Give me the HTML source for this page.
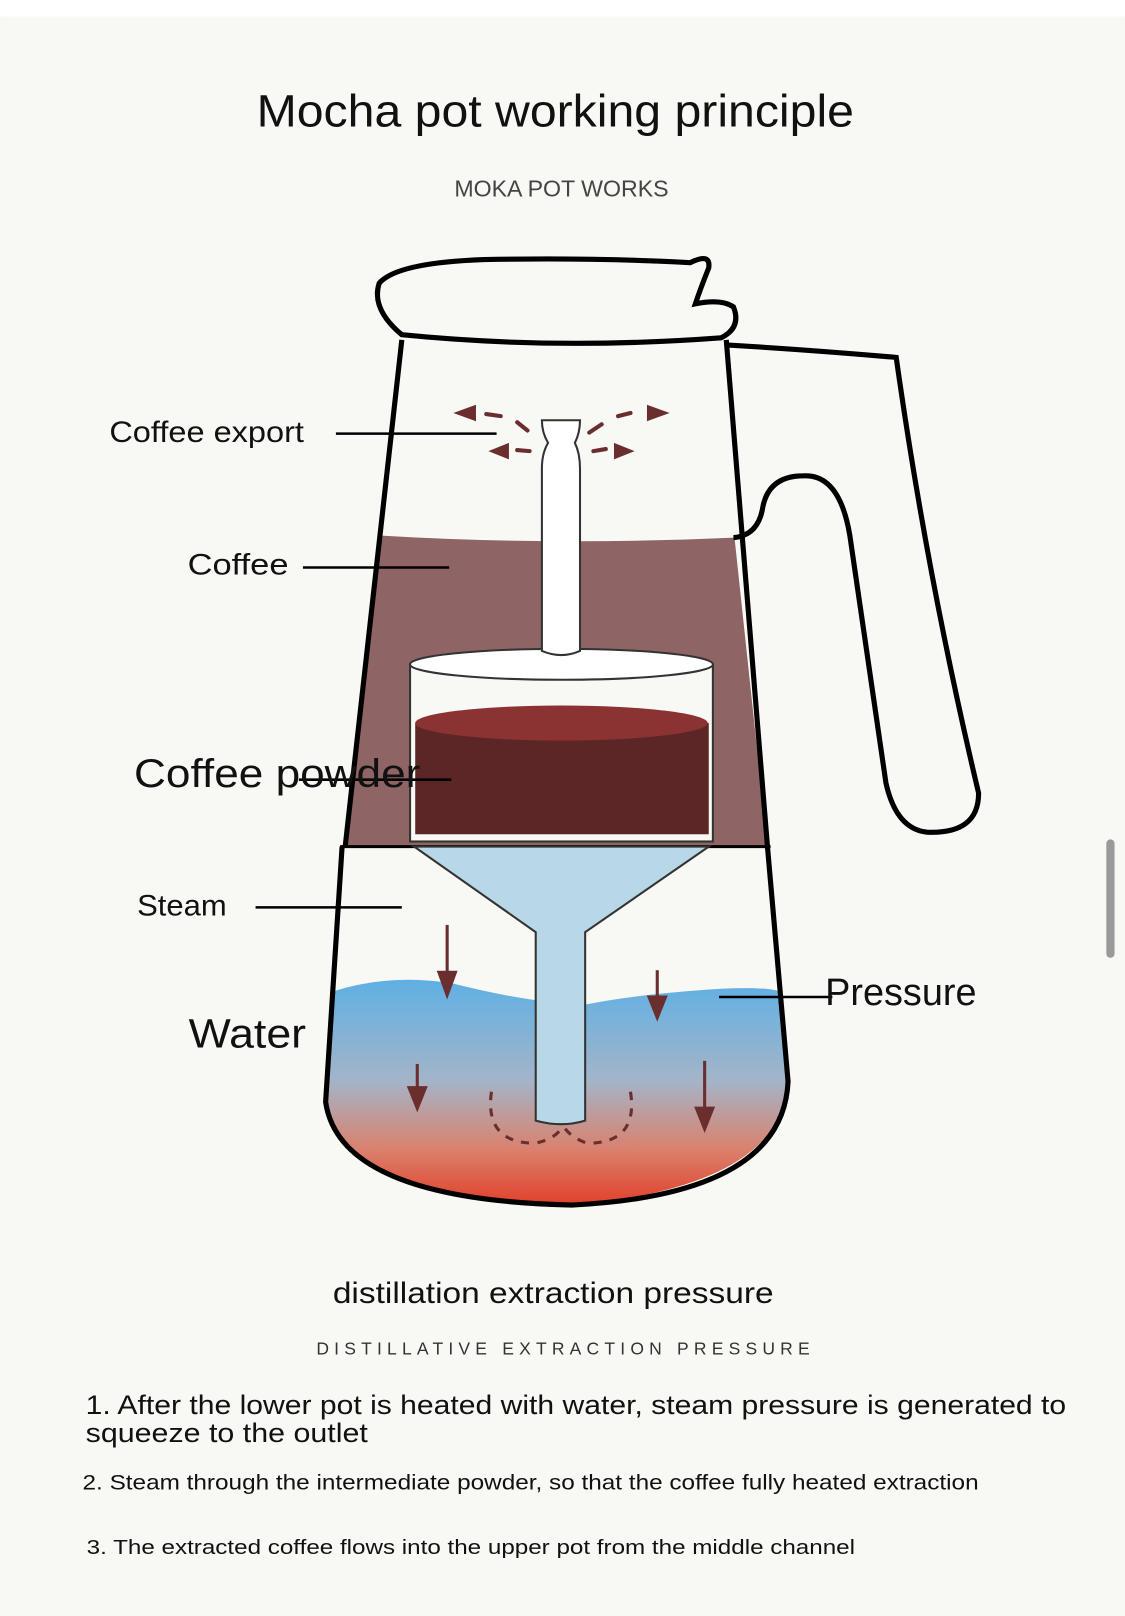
<!DOCTYPE html>
<html><head><meta charset="utf-8"><style>
html,body{margin:0;padding:0;background:#f8f8f4;}
svg{display:block;}
text{font-family:"Liberation Sans",sans-serif;fill:#111;}
</style></head><body>
<svg width="1125" height="1616" viewBox="0 0 1092 1569" xmlns="http://www.w3.org/2000/svg">
<defs>
<linearGradient id="w" x1="0" y1="0" x2="0" y2="1">
<stop offset="0" stop-color="#5fb0e4"/><stop offset="0.45" stop-color="#a4b4c8"/><stop offset="0.75" stop-color="#d9826e"/><stop offset="1" stop-color="#e2402a"/>
</linearGradient>
</defs>
<rect x="0" y="0" width="1092" height="1569" fill="#f8f8f4"/>
<rect x="0" y="0" width="1092" height="16" fill="#ffffff"/>
<rect x="1074" y="815" width="8" height="115" rx="4" fill="#9a9a9a"/>
<text x="249" y="123" font-size="44" textLength="580" lengthAdjust="spacingAndGlyphs">Mocha pot working principle</text>
<text x="441" y="191" font-size="22" textLength="208" lengthAdjust="spacingAndGlyphs" style="fill:#444">MOKA POT WORKS</text>

<path d="M370,520 Q540,530 713,522 L745,822 L333,822 Z" fill="#8f6464"/>
<path d="M325,962 Q380,945 440,955 Q520,975 570,975 Q620,965 700,960 Q740,958 755,962 L765,1050 Q760,1150 560,1170 Q330,1165 315,1070 Z" fill="url(#w)"/>
<path d="M390,330 L335,822 M705,330 L745,822" stroke="#000" stroke-width="5" fill="none"/>
<path d="M390,325 Q360,300 368,275 Q385,255 470,252 Q580,250 670,255 Q690,245 688,260 Q680,280 675,295 Q700,290 712,298 Q720,318 700,328 Q540,340 390,325 Z" fill="#f8f8f4" stroke="#000" stroke-width="5"/>
<path d="M707,335 Q790,340 870,347 Q900,560 950,770 Q950,810 900,808 Q870,805 860,760 L825,520 Q815,460 780,462 Q745,462 740,495 Q735,520 712,522" fill="none" stroke="#000" stroke-width="5"/>
<path d="M332,822 L316,1070 Q330,1165 555,1170 Q760,1160 765,1050 L745,822" fill="none" stroke="#000" stroke-width="5"/>
<line x1="330" y1="822" x2="748" y2="822" stroke="#000" stroke-width="3"/>
<path d="M402,822 L688,822 L568,905 L568,1088 Q545,1095 520,1088 L520,905 Z" fill="#b8d8e8" stroke="#333" stroke-width="2"/>
<rect x="398" y="645" width="294" height="172" fill="#f8f8f4" stroke="#333" stroke-width="2"/>
<ellipse cx="545" cy="645" rx="147" ry="15" fill="#fff" stroke="#333" stroke-width="2"/>
<rect x="403" y="702" width="285" height="108" fill="#5c2626"/>
<ellipse cx="545" cy="702" rx="142" ry="17" fill="#8b3232"/>
<path d="M526,632 L526,455 Q526,440 532,430 Q526,420 526,408 L563,408 Q563,420 558,430 Q563,440 563,455 L563,632 Q545,640 526,632 Z" fill="#fff" stroke="#333" stroke-width="2"/>
<g fill="#6b2e2e">
<path d="M440,401 L462,393 L462,409 Z"/><path d="M474,438 L494,430 L494,446 Z"/>
<path d="M650,401 L628,393 L628,409 Z"/><path d="M616,438 L596,430 L596,446 Z"/>
</g>
<g stroke="#6b2e2e" stroke-width="4" fill="none" stroke-linecap="round">
<path d="M472,402 L486,404 M502,410 L512,418 M502,437 L514,438 M572,420 L584,412 M600,404 L612,401 M576,438 L588,436"/>
</g>
<g stroke="#6b2e2e" stroke-width="3" fill="#6b2e2e">
<line x1="434" y1="898" x2="434" y2="950"/><path d="M426,944 L442,944 L434,966 Z"/>
<line x1="638" y1="942" x2="638" y2="972"/><path d="M630,968 L646,968 L638,988 Z"/>
<line x1="405" y1="1033" x2="405" y2="1060"/><path d="M397,1056 L413,1056 L405,1076 Z"/>
<line x1="684" y1="1030" x2="684" y2="1080"/><path d="M676,1076 L692,1076 L684,1096 Z"/>
</g>
<g stroke="#6b2e2e" stroke-width="3" fill="none" stroke-dasharray="8,8">
<path d="M477,1060 Q470,1110 520,1110 Q540,1105 545,1095"/>
<path d="M612,1060 Q620,1110 570,1110 Q555,1105 548,1095"/>
</g>
<g stroke="#000" stroke-width="2.5">
<line x1="326" y1="421" x2="482" y2="421"/>
<line x1="294" y1="551" x2="436" y2="551"/>
<line x1="290" y1="757" x2="438" y2="757"/>
<line x1="248" y1="881" x2="390" y2="881"/>
<line x1="698" y1="968" x2="808" y2="968"/>
</g>
<text x="106" y="429" font-size="29" textLength="189" lengthAdjust="spacingAndGlyphs">Coffee export</text>
<text x="182" y="558" font-size="29" textLength="98" lengthAdjust="spacingAndGlyphs">Coffee</text>
<text x="130" y="764" font-size="39" textLength="278" lengthAdjust="spacingAndGlyphs">Coffee powder</text>
<text x="133" y="889" font-size="29" textLength="87" lengthAdjust="spacingAndGlyphs">Steam</text>
<text x="183" y="1017" font-size="40" textLength="114" lengthAdjust="spacingAndGlyphs">Water</text>
<text x="801" y="976" font-size="37" textLength="147" lengthAdjust="spacingAndGlyphs">Pressure</text>

<text x="323" y="1265" font-size="29" textLength="428" lengthAdjust="spacingAndGlyphs">distillation extraction pressure</text>
<text x="307" y="1315" font-size="17" textLength="479" lengthAdjust="spacing" style="fill:#333">DISTILLATIVE EXTRACTION PRESSURE</text>
<text x="83" y="1373" font-size="26" textLength="952" lengthAdjust="spacingAndGlyphs">1. After the lower pot is heated with water, steam pressure is generated to</text>
<text x="83" y="1400" font-size="26" textLength="274" lengthAdjust="spacingAndGlyphs">squeeze to the outlet</text>
<text x="80" y="1446" font-size="21" textLength="870" lengthAdjust="spacingAndGlyphs">2. Steam through the intermediate powder, so that the coffee fully heated extraction</text>
<text x="84" y="1509" font-size="20" textLength="746" lengthAdjust="spacingAndGlyphs">3. The extracted coffee flows into the upper pot from the middle channel</text>
</svg>
</body></html>
